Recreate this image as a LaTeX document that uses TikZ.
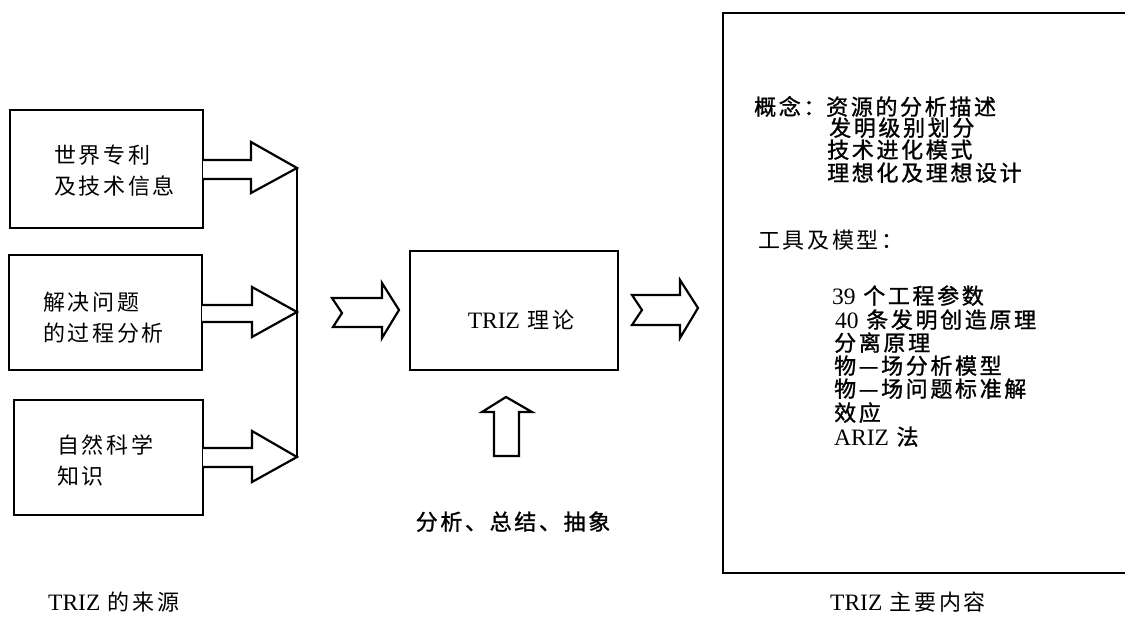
\documentclass[tikz,border=0pt]{standalone}
\usepackage{fontspec}
\setmainfont{Liberation Serif}
\newfontfamily\cjk[LetterSpace=12]{Noto Sans CJK SC}
\newfontfamily\cjkb[LetterSpace=12,FakeBold=1.2]{Noto Sans CJK SC}
\newcommand{\lat}[1]{{\rmfamily\fontsize{23.5}{28}\selectfont #1}}
\begin{document}
\begin{tikzpicture}[x=1pt,y=-1pt,
  box/.style={draw,line width=2.2pt,inner sep=0pt},
  blk/.style={draw,line width=2.2pt,line join=miter,fill=white},
  txt/.style={anchor=base west,inner sep=0pt,font=\fontsize{22}{28}\selectfont\cjkb},
  ntxt/.style={anchor=base west,inner sep=0pt,font=\fontsize{22}{28}\selectfont\cjk},
  ctxt/.style={anchor=base,inner sep=0pt,font=\fontsize{22}{28}\selectfont\cjk},
  ltxt/.style={anchor=west,inner sep=0pt,align=left,font=\fontsize{22}{31}\selectfont\cjk}]
\useasboundingbox (0,0) rectangle (1125,642);
% source boxes
\node[box,minimum width=193pt,minimum height=118pt] (b1) at (106.5,169) {};
\node[box,minimum width=193pt,minimum height=115pt] (b2) at (105.5,312.5) {};
\node[box,minimum width=189pt,minimum height=115pt] (b3) at (108.5,457.5) {};
\node[ltxt] (t1) at (54,171) {世界专利\\及技术信息};
\node[ltxt] (t2) at (43,318) {解决问题\\的过程分析};
\node[ltxt] (t3) at (57,461) {自然科学\\知识};
% arrows into collector line
\coordinate (p1) at (297,168);
\coordinate (p2) at (297,312);
\coordinate (p3) at (297,457);
\draw[blk] (203,160) -- (251,160) -- (251,142) -- (p1) -- (251,193) -- (251,179) -- (203,179);
\draw[blk] (202,305) -- (252,305) -- (252,287) -- (p2) -- (252,337) -- (252,322) -- (202,322);
\draw[blk] (203,448) -- (252,448) -- (252,431) -- (p3) -- (252,482) -- (252,467) -- (203,467);
\draw[line width=2.2pt] (p1) -- (p3);
% middle
\node[box,minimum width=208pt,minimum height=119pt] (mid) at (514,310.5) {};
\node[ctxt] (midt) at (521,328) {\lat{TRIZ} 理论};
\draw[blk] (332,298) -- (382,298) -- (382,283) -- (399,310) -- (382,338) -- (382,327) -- (333,327) -- (342,313) -- cycle;
\draw[blk] (632,295) -- (680,295) -- (680,280) -- (698,308) -- (680,338) -- (680,325) -- (632,325) -- (642,310) -- cycle;
\draw[blk] (506,397) -- (532,412) -- (519,412) -- (519,456) -- (494,456) -- (494,412) -- (482,412) -- cycle;
\node[ctxt,font=\fontsize{22}{28}\selectfont\cjkb] (ana) at (513,530) {分析、总结、抽象};
% right box
\coordinate (rt) at (1125,13);
\coordinate (rb) at (1125,573);
\draw[line width=2.2pt] (rt) -- (723,13) -- (723,573) -- (rb);
\node[txt] (c0) at (754,115) {概念：};
\node[txt] (c1) at (826,115) {资源的分析描述};
\node[txt] (c2) at (829,136) {发明级别划分};
\node[txt] (c3) at (827,158) {技术进化模式};
\node[txt] (c4) at (827,181) {理想化及理想设计};
\node[ntxt] (g0) at (758,248) {工具及模型：};
\node[txt] (g1) at (832,304) {\lat{39} 个工程参数};
\node[txt] (g2) at (835,328) {\lat{40} 条发明创造原理};
\node[txt] (g3) at (834,351) {分离原理};
\node[txt] (g4) at (834,374) {物—场分析模型};
\node[txt] (g5) at (834,397) {物—场问题标准解};
\node[txt] (g6) at (834,421) {效应};
\node[txt] (g7) at (834,445) {\lat{ARIZ} 法};
% captions
\node[ntxt] (cap1) at (48,610) {\lat{TRIZ} 的来源};
\node[ntxt] (cap2) at (830,610) {\lat{TRIZ} 主要内容};
\end{tikzpicture}
\end{document}
